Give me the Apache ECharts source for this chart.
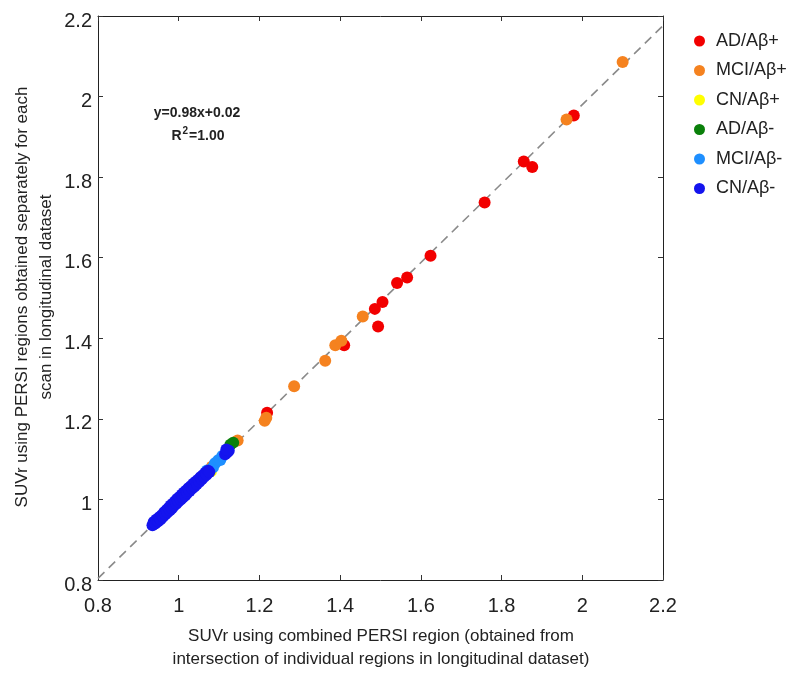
<!DOCTYPE html>
<html><head><meta charset="utf-8">
<script src="https://cdn.jsdelivr.net/npm/echarts@6/dist/echarts.min.js"></script>
<style>html,body{margin:0;padding:0;background:#fff}#c{width:811px;height:677px}</style>
</head><body><div id="c"></div>
<script>
const seriesNames = ['AD/Aβ+','MCI/Aβ+','CN/Aβ+','AD/Aβ-','MCI/Aβ-','CN/Aβ-'];
const seriesColors = ['#f20000','#f5821f','#ffff00','#0a800a','#1e8fff','#1414ee'];
const xTicks = [0.8,1,1.2,1.4,1.6,1.8,2,2.2];
const yTicks = [0.8,1,1.2,1.4,1.6,1.8,2,2.2];
const fitLine = [[0.8,0.804],[2.2,2.176]];
const adPos = [[1.219,1.215],[1.410,1.383],[1.486,1.473],[1.494,1.429],[1.505,1.490],[1.541,1.537],[1.566,1.551],[1.624,1.605],[1.758,1.737],[1.855,1.839],[1.876,1.825],[1.979,1.953]];
const mciPos = [[1.082,1.081],[1.146,1.146],[1.213,1.195],[1.217,1.203],[1.286,1.281],[1.363,1.344],[1.388,1.383],[1.403,1.394],[1.456,1.454],[1.961,1.943],[2.100,2.086]];
const cnPos = [[1.080,1.070]];
const adNeg = [[1.128,1.136],[1.135,1.141]];
const mciNeg = [[1.070,1.072],[1.085,1.080],[1.090,1.090],[1.098,1.097],[1.103,1.098],[1.108,1.108]];
const cnNeg = [[0.935,0.936],[0.938,0.944],[0.942,0.940],[0.945,0.950],[0.949,0.946],[0.952,0.956],[0.955,0.951],[0.958,0.961],[0.961,0.957],[0.964,0.968],[0.967,0.963],[0.970,0.974],[0.972,0.968],[0.975,0.979],[0.978,0.973],[0.980,0.985],[0.983,0.978],[0.986,0.990],[0.988,0.984],[0.991,0.995],[0.994,0.989],[0.996,1.001],[0.999,0.995],[1.002,1.006],[1.005,1.000],[1.008,1.012],[1.010,1.005],[1.013,1.017],[1.016,1.010],[1.019,1.022],[1.021,1.016],[1.024,1.028],[1.027,1.021],[1.030,1.033],[1.033,1.027],[1.036,1.039],[1.039,1.032],[1.042,1.044],[1.045,1.038],[1.048,1.049],[1.051,1.044],[1.054,1.055],[1.057,1.050],[1.060,1.060],[1.063,1.056],[1.066,1.066],[1.069,1.061],[1.073,1.071],[1.076,1.068],[1.115,1.112],[1.120,1.117],[1.124,1.121],[1.118,1.124]];
const groups = [adPos, mciPos, cnPos, adNeg, mciNeg, cnNeg];

const FONT = '"Liberation Sans", Arial, Helvetica, sans-serif';
const chart = echarts.init(document.getElementById('c'), null, {renderer:'canvas'});
const axBase = (pos, show) => ({
  type:'value', min:0.8, max:2.2, interval:0.2, position:pos,
  splitLine:{show:false},
  axisLine:{show:true, onZero:false, lineStyle:{color:'#222', width:1}},
  axisTick:{show:true, inside:true, length:5, lineStyle:{color:'#333'}},
  axisLabel:{show:show, color:'#222', fontFamily:FONT, fontSize:20,
    formatter: v => String(Math.round(v*10)/10)}
});
const xa = axBase('bottom', true); xa.axisLabel.margin = 16;
const xb = axBase('top', false);
const ya = axBase('left', true); ya.axisLabel.margin = 6; ya.axisLabel.verticalAlign = 'top'; ya.axisLabel.lineHeight = 10;
const yb = axBase('right', false);

const series = [{
  type:'line', data:fitLine, symbol:'none', silent:true,
  lineStyle:{color:'#8a8a8a', width:1.6, type:[9,6]}, z:1
}];
groups.forEach((g,i)=>series.push({
  name:seriesNames[i], type:'scatter', data:g, symbolSize:12,
  itemStyle:{color:seriesColors[i], opacity:1}, z:2+i
}));

chart.setOption({
  animation:false,
  grid:{left:98, right:148, top:16, bottom:97, containLabel:false},
  xAxis:[xa, xb], yAxis:[ya, yb],
  legend:{orient:'vertical', left:689, top:27, itemWidth:11, itemHeight:11, itemGap:11.5,
    icon:'circle', data:seriesNames,
    textStyle:{fontFamily:FONT, fontSize:18, color:'#222', padding:[0,0,0,6]}},
  graphic:[
    {type:'text', x:34, y:297, rotation:Math.PI/2,
      style:{text:'SUVr using PERSI regions obtained separately for each\nscan in longitudinal dataset',
        font:'17px '+FONT, fill:'#222', textAlign:'center', textVerticalAlign:'middle', lineHeight:24}},
    {type:'text', x:381, y:648,
      style:{text:'SUVr using combined PERSI region (obtained from\nintersection of individual regions in longitudinal dataset)',
        font:'17px '+FONT, fill:'#222', textAlign:'center', textVerticalAlign:'middle', lineHeight:23}},
    {type:'text', x:197, y:113,
      style:{text:'y=0.98x+0.02', font:'bold 14px '+FONT, fill:'#222', textAlign:'center', textVerticalAlign:'middle'}},
    {type:'text', x:198, y:136,
      style:{text:'R{s|2}=1.00', rich:{s:{fontSize:10, fontWeight:'bold', fontFamily:FONT, verticalAlign:'top', padding:[0,1,9,1]}},
        font:'bold 14px '+FONT, fill:'#222', textAlign:'center', textVerticalAlign:'middle'}}
  ],
  series:series
});
</script></body></html>
